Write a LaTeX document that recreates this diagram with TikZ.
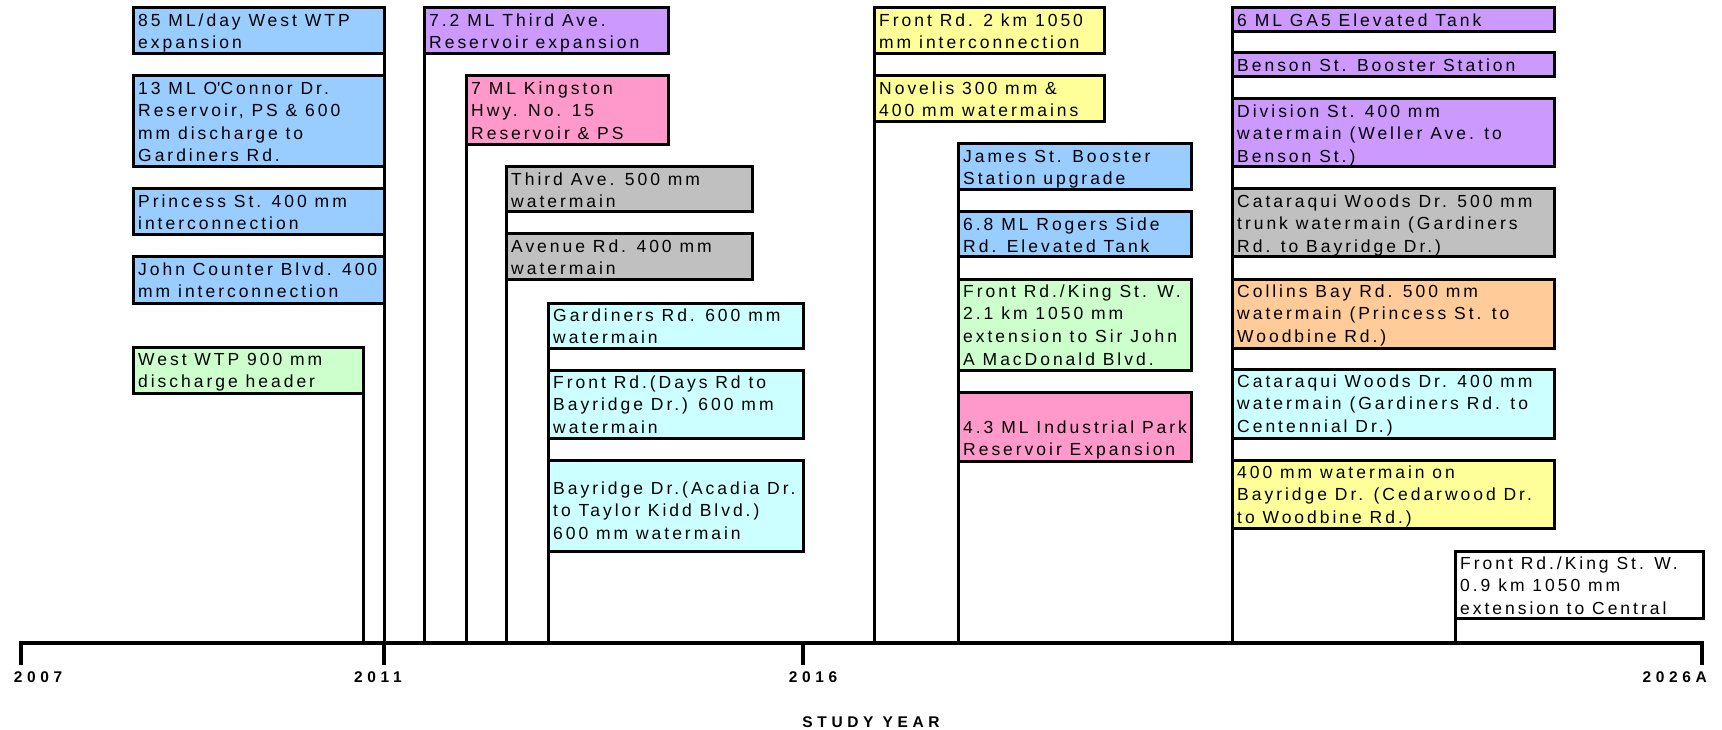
\documentclass[tikz,border=0pt]{standalone}
\usepackage{fontspec}
\setmainfont{Liberation Sans}
\newfontfamily\boxfont[LetterSpace=17]{Liberation Sans}
\newfontfamily\axisfont[LetterSpace=30]{Liberation Sans}

\definecolor{cBlue}{HTML}{99CCFF}
\definecolor{cGreen}{HTML}{CCFFCC}
\definecolor{cPurple}{HTML}{CC99FF}
\definecolor{cPink}{HTML}{FF99CC}
\definecolor{cGray}{HTML}{C0C0C0}
\definecolor{cCyan}{HTML}{CCFFFF}
\definecolor{cYellow}{HTML}{FFFF99}
\definecolor{cOrange}{HTML}{FFCC99}

% #1 name, #2 x1, #3 y1, #4 x2, #5 y2, #6 fill, #7 first baseline offset, #8 text
% the first line carries a 14pt strut, so its baseline sits 14pt below the node top
\newcommand{\projbox}[8]{%
  \node[pbox, fill=#6, minimum width={(#4-(#2))*1pt}, minimum height={(#5-(#3))*1pt}] (#1) at (#2,#3) {};
  \node[ptext] (#1t) at ([shift={(5pt,{-(#7-14)*1pt})}]#1.north west) {\rule{0pt}{14pt}#8};
}

\begin{document}
\begin{tikzpicture}[x=1pt,y=-1pt,
  pbox/.style={draw=black, line width=3pt, inner sep=0pt, outer sep=0pt, anchor=north west},
  ptext/.style={anchor=north west, inner sep=0pt, align=left, font={\boxfont\fontsize{17.5}{22.6}\selectfont}},
  conn/.style={line width=3pt},
  axisline/.style={line width=4.2pt, line join=miter},
  tickmark/.style={line width=4.8pt},
  yearlbl/.style={anchor=base, inner sep=0pt, font={\axisfont\bfseries\fontsize{15.5}{18}\selectfont}}]

\useasboundingbox (0,0) rectangle (1722,730);

% time axis
\coordinate (ax0) at (21,643);
\coordinate (ax1) at (1702,643);
\coordinate (t2007) at (21,665);
\coordinate (t2026) at (1702,665);
\coordinate (a2011) at (384,643);
\coordinate (t2011) at (384,665);
\coordinate (a2016) at (803,643);
\coordinate (t2016) at (803,665);

% projects up to 2011
\projbox{A1}{133}{8}{384}{54}{cBlue}{18}{85 ML/day West WTP\\expansion}
\projbox{A2}{133}{76}{384}{167}{cBlue}{18}{13 ML O\textquotesingle Connor Dr.\\Reservoir, PS \& 600\\mm discharge to\\Gardiners Rd.}
\projbox{A3}{133}{189}{384}{235}{cBlue}{18}{Princess St. 400 mm\\interconnection}
\projbox{A4}{133}{257}{384}{303}{cBlue}{18}{John Counter Blvd. 400\\mm interconnection}
\projbox{A5}{133}{347}{363}{393}{cGreen}{18}{West WTP 900 mm\\discharge header}

% projects 2011 to 2016
\projbox{B1}{424}{8}{668}{54}{cPurple}{18}{7.2 ML Third Ave.\\Reservoir expansion}
\projbox{B2}{466}{76}{668}{145}{cPink}{18}{7 ML Kingston\\Hwy. No. 15\\Reservoir \& PS}
\projbox{B3}{506}{167}{752}{212}{cGray}{18}{Third Ave. 500 mm\\watermain}
\projbox{B4}{506}{234}{752}{279}{cGray}{18}{Avenue Rd. 400 mm\\watermain}
\projbox{B5}{548}{303}{803}{348}{cCyan}{18}{Gardiners Rd. 600 mm\\watermain}
\projbox{B6}{548}{370}{803}{438}{cCyan}{18}{Front Rd.(Days Rd to\\Bayridge Dr.) 600 mm\\watermain}
\projbox{B7}{548}{460}{803}{551}{cCyan}{34}{Bayridge Dr.(Acadia Dr.\\to Taylor Kidd Blvd.)\\600 mm watermain}

% projects 2016 onwards
\projbox{C1}{874}{8}{1104}{54}{cYellow}{18}{Front Rd. 2 km 1050\\mm interconnection}
\projbox{C2}{874}{76}{1104}{122}{cYellow}{18}{Novelis 300 mm \&\\400 mm watermains}
\projbox{C3}{958}{144}{1191}{190}{cBlue}{18}{James St. Booster\\Station upgrade}
\projbox{C4}{958}{212}{1191}{257}{cBlue}{18}{6.8 ML Rogers Side\\Rd. Elevated Tank}
\projbox{C5}{958}{279}{1191}{370}{cGreen}{18}{Front Rd./King St. W.\\2.1 km 1050 mm\\extension to Sir John\\A MacDonald Blvd.}
\projbox{C6}{958}{392}{1191}{461}{cPink}{41}{4.3 ML Industrial Park\\Reservoir Expansion}

% projects to 2026
\projbox{D1}{1232}{8}{1554}{32}{cPurple}{18}{6 ML GA5 Elevated Tank}
\projbox{D2}{1232}{53}{1554}{77}{cPurple}{18}{Benson St. Booster Station}
\projbox{D3}{1232}{99}{1554}{167}{cPurple}{18}{Division St. 400 mm\\watermain (Weller Ave. to\\Benson St.)}
\projbox{D4}{1232}{189}{1554}{257}{cGray}{18}{Cataraqui Woods Dr. 500 mm\\trunk watermain (Gardiners\\Rd. to Bayridge Dr.)}
\projbox{D5}{1232}{279}{1554}{348}{cOrange}{18}{Collins Bay Rd. 500 mm\\watermain (Princess St. to\\Woodbine Rd.)}
\projbox{D6}{1232}{369}{1554}{438}{cCyan}{18}{Cataraqui Woods Dr. 400 mm\\watermain (Gardiners Rd. to\\Centennial Dr.)}
\projbox{D7}{1232}{460}{1554}{528}{cYellow}{18}{400 mm watermain on\\Bayridge Dr. (Cedarwood Dr.\\to Woodbine Rd.)}
\projbox{E1}{1455}{551}{1703}{618}{white}{18}{Front Rd./King St. W.\\0.9 km 1050 mm\\extension to Central}

% drop lines from each group to the axis
\draw[conn] (A1.north east) -- (a2011);
\draw[conn] (A5.south east) -- (A5.south east |- ax0);
\draw[conn] (B1.north west) -- (B1.north west |- ax0);
\draw[conn] (B2.north west) -- (B2.north west |- ax0);
\draw[conn] (B3.north west) -- (B3.north west |- ax0);
\draw[conn] (B5.north west) -- (B5.north west |- ax0);
\draw[conn] (C1.north west) -- (C1.north west |- ax0);
\draw[conn] (C3.north west) -- (C3.north west |- ax0);
\draw[conn] (D1.north west) -- (D1.north west |- ax0);
\draw[conn] (E1.north west) -- (E1.north west |- ax0);

% axis and ticks
\draw[axisline] (t2007) -- (ax0) -- (ax1) -- (t2026);
\draw[tickmark] (a2011) -- (t2011);
\draw[tickmark] (a2016) -- (t2016);

\node[yearlbl] (y2007) at (38,682) {2007};
\node[yearlbl] (y2011) at (378,682) {2011};
\node[yearlbl] (y2016) at (813,682) {2016};
\node[yearlbl, anchor=base east] (y2026) at (1707,682) {2026A};
\node[yearlbl] (xtitle) at (871,727) {STUDY YEAR};
\end{tikzpicture}
\end{document}
